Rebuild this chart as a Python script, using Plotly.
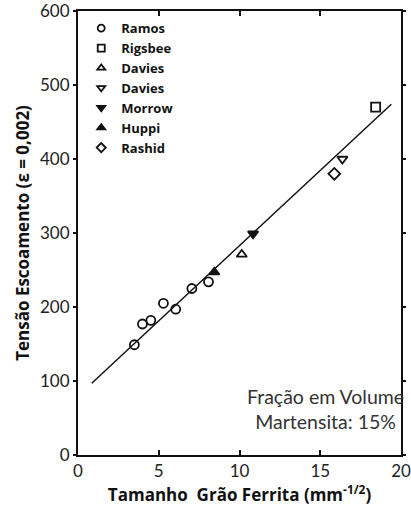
import plotly.graph_objects as go

# Yield stress vs. ferrite grain size (Hall-Petch), 15% martensite
ramos_x = [3.49, 3.99, 4.51, 5.29, 6.05, 7.05, 8.08]
ramos_y = [149, 177, 182, 205, 197, 225, 234]
rigsbee_x = [18.43]
rigsbee_y = [470]
davies_up_x = [10.14]
davies_up_y = [271]
davies_down_x = [16.37]
davies_down_y = [400]
morrow_x = [10.84]
morrow_y = [299]
huppi_x = [8.44]
huppi_y = [247]
rashid_x = [15.87]
rashid_y = [380]

fit_x = [0.85, 19.4]
fit_y = [97, 474]

x_ticks = [0, 5, 10, 15, 20]
y_ticks = [0, 100, 200, 300, 400, 500, 600]

BLACK = "#111111"
FONT = "Lato"
TITLE_FONT = "Open Sans"

series = [
    ("Ramos", ramos_x, ramos_y, "circle-open"),
    ("Rigsbee", rigsbee_x, rigsbee_y, "square-open"),
    ("Davies", davies_up_x, davies_up_y, "triangle-up-open"),
    ("Davies", davies_down_x, davies_down_y, "triangle-down-open"),
    ("Morrow", morrow_x, morrow_y, "triangle-down"),
    ("Huppi", huppi_x, huppi_y, "triangle-up"),
    ("Rashid", rashid_x, rashid_y, "diamond-open"),
]

fig = go.Figure()

fig.add_trace(go.Scatter(
    x=fit_x, y=fit_y, mode="lines",
    line=dict(color=BLACK, width=1.5),
    showlegend=False, hoverinfo="skip",
))

# data markers
for name, xs, ys, sym in series:
    fig.add_trace(go.Scatter(
        x=xs, y=ys, mode="markers", name=name, showlegend=False,
        marker=dict(symbol=sym, size=9, color=BLACK,
                    line=dict(color=BLACK, width=1.8)),
    ))

# legend keys, drawn a little smaller than the data markers
for name, _, _, sym in series:
    fig.add_trace(go.Scatter(
        x=[None], y=[None], mode="markers", name=name,
        marker=dict(symbol=sym, size=7, color=BLACK,
                    line=dict(color=BLACK, width=1.8)),
    ))

fig.add_annotation(
    x=15.35, y=62, xref="x", yref="y",
    text="Fração em Volume<br>Martensita: 15%",
    showarrow=False, align="center",
    font=dict(family=FONT, size=19.5, color="#333333"),
)

fig.update_layout(
    width=411, height=506,
    margin=dict(l=78, r=0, t=11, b=51),
    paper_bgcolor="white", plot_bgcolor="white",
    font=dict(family=FONT, color=BLACK),
    legend=dict(
        x=0.01, y=0.995, xanchor="left", yanchor="top",
        bgcolor="rgba(0,0,0,0)",
        font=dict(family=TITLE_FONT, size=13, color=BLACK, weight="bold"),
        itemsizing="trace", itemwidth=30,
        tracegroupgap=0,
    ),
    xaxis=dict(
        range=[0, 20], tickvals=x_ticks, ticktext=[str(v) for v in x_ticks],
        showgrid=False, zeroline=False,
        showline=True, linecolor=BLACK, linewidth=2, mirror="ticks",
        ticks="inside", ticklen=5, tickwidth=1.5, tickcolor=BLACK,
        ticklabeloverflow="allow",
        tickfont=dict(family=FONT, size=17, color="#222222"),
        title=dict(
            text="Tamanho  Grão Ferrita (mm<sup>-1/2</sup>)",
            font=dict(family=TITLE_FONT, size=17, color=BLACK, weight="bold"),
            standoff=4,
        ),
    ),
    yaxis=dict(
        range=[0, 600], tickvals=y_ticks, ticktext=[str(v) for v in y_ticks],
        showgrid=False, zeroline=False,
        showline=True, linecolor=BLACK, linewidth=2, mirror="ticks",
        ticks="outside", ticklen=3, tickwidth=1.5, tickcolor=BLACK,
        ticklabeloverflow="allow",
        tickfont=dict(family=FONT, size=17, color="#222222"),
        title=dict(
            text="Tensão Escoamento (ε = 0,002)",
            font=dict(family=TITLE_FONT, size=17, color=BLACK, weight="bold"),
            standoff=6,
        ),
    ),
)

fig.write_html("out.html")
